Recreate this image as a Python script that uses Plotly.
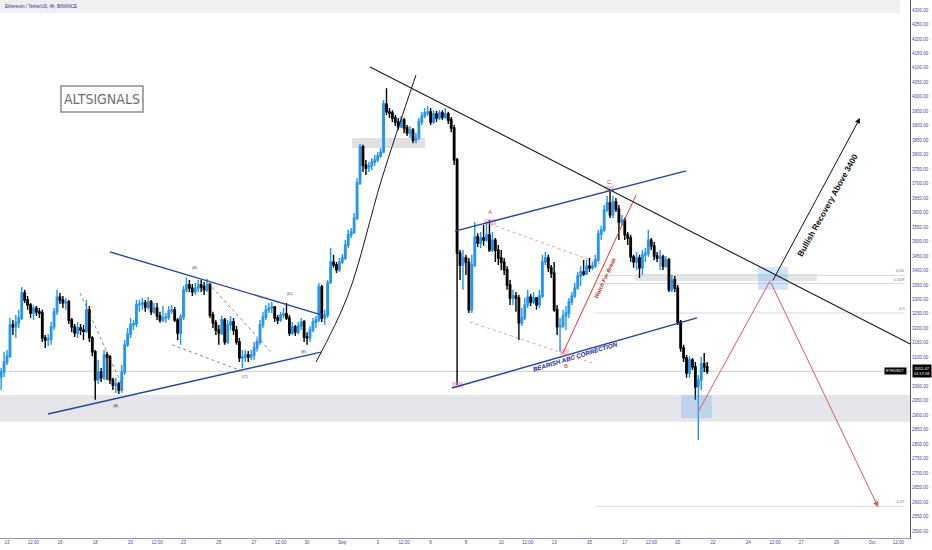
import pandas as pd
import plotly.graph_objects as go

# ---------------- data (ETH/USDT 4h candles) ----------------
first_open = 3032
close = [3049, 3084, 3104, 3212, 3205, 3219, 3236, 3322, 3298, 3281,
         3253, 3270, 3257, 3253, 3167, 3160, 3163, 3205, 3257, 3308,
         3298, 3288, 3291, 3229, 3205, 3184, 3201, 3194, 3190, 3264,
         3167, 3119, 3022, 3049, 3029, 3108, 3101, 3022, 3004, 3008,
         2987, 3049, 3143, 3180, 3212, 3216, 3281, 3284, 3288, 3274,
         3291, 3257, 3270, 3243, 3229, 3236, 3239, 3260, 3264, 3229,
         3184, 3239, 3333, 3350, 3339, 3326, 3339, 3350, 3343, 3333,
         3350, 3246, 3219, 3194, 3184, 3229, 3153, 3212, 3222, 3194,
         3153, 3098, 3101, 3108, 3101, 3108, 3132, 3153, 3212, 3239,
         3264, 3270, 3274, 3236, 3229, 3246, 3250, 3236, 3184, 3205,
         3187, 3208, 3222, 3170, 3167, 3194, 3222, 3229, 3343, 3236,
         3246, 3357, 3429, 3419, 3402, 3429, 3443, 3488, 3523, 3533,
         3581, 3702, 3827, 3764, 3754, 3761, 3775, 3782, 3796, 3809,
         3975, 3948, 3944, 3927, 3913, 3896, 3920, 3892, 3875, 3885,
         3851, 3858, 3913, 3934, 3944, 3948, 3913, 3941, 3927, 3944,
         3930, 3941, 3920, 3892, 3782, 3460, 3419, 3443, 3429, 3264,
         3419, 3516, 3495, 3512, 3505, 3523, 3471, 3505, 3471, 3443,
         3429, 3402, 3350, 3305, 3312, 3305, 3219, 3236, 3281, 3308,
         3291, 3305, 3281, 3312, 3429, 3443, 3409, 3391, 3264, 3205,
         3208, 3243, 3253, 3291, 3312, 3339, 3381, 3395, 3388, 3415,
         3409, 3415, 3436, 3526, 3540, 3609, 3633, 3592, 3637, 3612,
         3567, 3574, 3523, 3512, 3447, 3429, 3443, 3409, 3454, 3460,
         3505, 3485, 3450, 3443, 3447, 3415, 3436, 3333, 3367, 3339,
         3222, 3132, 3098, 3046, 3091, 3067, 2998, 3022, 3077, 3067,
         3051.47]
high = [3063, 3119, 3125, 3236, 3229, 3246, 3264, 3343, 3333, 3312,
        3288, 3281, 3277, 3270, 3264, 3177, 3180, 3222, 3270, 3333,
        3322, 3312, 3305, 3298, 3236, 3215, 3222, 3215, 3212, 3298,
        3277, 3174, 3125, 3091, 3063, 3125, 3119, 3108, 3029, 3029,
        3015, 3073, 3160, 3201, 3236, 3229, 3298, 3298, 3305, 3298,
        3308, 3298, 3288, 3288, 3257, 3277, 3253, 3277, 3281, 3274,
        3236, 3250, 3346, 3377, 3367, 3353, 3357, 3367, 3367, 3360,
        3371, 3357, 3257, 3229, 3212, 3243, 3236, 3229, 3243, 3236,
        3208, 3167, 3125, 3125, 3122, 3125, 3153, 3167, 3229, 3257,
        3281, 3288, 3291, 3277, 3246, 3257, 3270, 3288, 3246, 3222,
        3212, 3222, 3236, 3229, 3187, 3208, 3236, 3243, 3357, 3350,
        3264, 3367, 3478, 3454, 3429, 3443, 3457, 3505, 3540, 3547,
        3599, 3719, 3837, 3834, 3782, 3775, 3789, 3799, 3809, 3823,
        3989, 4030, 3961, 3954, 3937, 3927, 3934, 3927, 3903, 3899,
        3892, 3875, 3927, 3948, 3961, 3968, 3961, 3954, 3951, 3954,
        3954, 3961, 3948, 3930, 3903, 3789, 3471, 3471, 3454, 3443,
        3454, 3567, 3529, 3533, 3557, 3567, 3574, 3533, 3512, 3488,
        3471, 3443, 3415, 3367, 3333, 3326, 3315, 3270, 3305, 3333,
        3319, 3326, 3308, 3333, 3454, 3464, 3454, 3419, 3429, 3281,
        3236, 3264, 3277, 3305, 3326, 3357, 3395, 3415, 3436, 3436,
        3443, 3429, 3454, 3540, 3554, 3626, 3657, 3678, 3657, 3650,
        3626, 3592, 3581, 3533, 3523, 3454, 3464, 3454, 3471, 3478,
        3540, 3512, 3498, 3464, 3471, 3454, 3450, 3443, 3384, 3381,
        3350, 3229, 3143, 3108, 3104, 3098, 3084, 3039, 3101, 3115,
        3084]
low = [2987, 3032, 3073, 3098, 3177, 3167, 3201, 3229, 3288, 3264,
       3236, 3229, 3243, 3236, 3153, 3132, 3139, 3143, 3194, 3246,
       3284, 3270, 3264, 3215, 3187, 3170, 3167, 3177, 3160, 3184,
       3153, 3104, 2953, 3008, 3015, 3022, 3022, 3008, 2987, 2977,
       2973, 2977, 3039, 3136, 3167, 3194, 3205, 3257, 3264, 3257,
       3264, 3246, 3250, 3229, 3219, 3222, 3219, 3229, 3250, 3222,
       3160, 3143, 3229, 3326, 3326, 3312, 3315, 3326, 3326, 3315,
       3326, 3236, 3201, 3177, 3143, 3177, 3143, 3146, 3194, 3177,
       3143, 3084, 3063, 3084, 3084, 3091, 3091, 3119, 3143, 3201,
       3229, 3253, 3253, 3222, 3215, 3222, 3236, 3229, 3174, 3177,
       3174, 3180, 3194, 3153, 3143, 3153, 3187, 3201, 3222, 3222,
       3212, 3236, 3357, 3409, 3391, 3395, 3422, 3436, 3478, 3512,
       3526, 3574, 3695, 3740, 3730, 3740, 3747, 3761, 3775, 3789,
       3806, 3937, 3927, 3913, 3899, 3885, 3892, 3875, 3865, 3858,
       3840, 3840, 3851, 3903, 3927, 3934, 3903, 3906, 3913, 3920,
       3920, 3923, 3906, 3878, 3764, 3004, 3367, 3333, 3384, 3253,
       3253, 3412, 3481, 3478, 3485, 3498, 3464, 3464, 3429, 3419,
       3402, 3384, 3333, 3281, 3281, 3257, 3160, 3208, 3229, 3270,
       3277, 3284, 3264, 3270, 3305, 3419, 3395, 3374, 3257, 3177,
       3119, 3201, 3194, 3236, 3281, 3305, 3333, 3346, 3381, 3384,
       3395, 3402, 3409, 3429, 3505, 3533, 3602, 3581, 3581, 3602,
       3505, 3557, 3505, 3488, 3429, 3409, 3402, 3374, 3384, 3429,
       3447, 3471, 3436, 3429, 3402, 3402, 3409, 3326, 3326, 3326,
       3212, 3119, 3084, 3029, 3029, 3056, 2953, 2814, 2987, 3049,
       3042]
open_ = [first_open] + close[:-1]
times = pd.date_range("2021-08-12 16:00", periods=len(close), freq="4h")

# price tick labels (3050.00 is hidden behind the last-price tag in the reference)
y_ticks = [v for v in range(2500, 4301, 50) if v != 3050]
x_tick_dates = ["2021-08-13", "2021-08-14 12:00", "2021-08-16", "2021-08-18", "2021-08-20",
                "2021-08-21 12:00", "2021-08-23", "2021-08-25", "2021-08-27", "2021-08-28 12:00",
                "2021-08-30", "2021-09-01", "2021-09-03", "2021-09-04 12:00", "2021-09-06",
                "2021-09-08", "2021-09-10", "2021-09-11 12:00", "2021-09-13", "2021-09-15",
                "2021-09-17", "2021-09-18 12:00", "2021-09-20", "2021-09-22", "2021-09-24",
                "2021-09-25 12:00", "2021-09-27", "2021-09-29", "2021-10-01", "2021-10-02 12:00"]
x_tick_text = ["13", "12:00", "16", "18", "20", "12:00", "23", "25", "27", "12:00",
               "30", "Sep", "3", "12:00", "6", "8", "10", "12:00", "13", "15",
               "17", "12:00", "20", "22", "24", "12:00", "27", "29", "Oct", "12:00"]

fib_levels = [0.65, 0.618, 0.5, -0.27]
fib_prices = [3383, 3355, 3253, 2585]
last_price = 3051.47

# drawings: (day offset from 13 Aug, price)
BASE = pd.Timestamp("2021-08-13 00:00")
def T(d):
    return (BASE + pd.Timedelta(days=d)).strftime("%Y-%m-%d %H:%M:%S")

X_MIN, X_MAX = -0.397, 51.16
Y_MIN, Y_MAX = 2475.7, 4334.5

fig = go.Figure()

shapes = []
def rect(d0, d1, p0, p1, color, line=None, layer="below", xref="x"):
    shapes.append(dict(type="rect", xref=xref, yref="y",
                       x0=T(d0) if xref == "x" else d0, x1=T(d1) if xref == "x" else d1,
                       y0=p0, y1=p1, fillcolor=color, layer=layer,
                       line=dict(width=0) if line is None else line))

def seg(d0, p0, d1, p1, color, width=1.0, dash="solid", layer="above"):
    shapes.append(dict(type="line", xref="x", yref="y", x0=T(d0), y0=p0, x1=T(d1), y1=p1,
                       line=dict(color=color, width=width, dash=dash), layer=layer))

# zones
rect(0, 1, 2877, 2970, "#e6e6ea", xref="paper")
rect(19.55, 23.68, 3823, 3858, "rgba(200,200,205,0.55)")
rect(35.58, 45.89, 3364, 3388, "rgba(200,200,205,0.45)")
rect(42.55, 44.25, 3333, 3412, "rgba(100,170,235,0.30)", layer="above")
rect(38.19, 39.94, 2890, 2970, "rgba(100,170,235,0.30)", layer="above")
# pink markers
for d0, d1, p0, p1 in [(27.03, 27.71, 3557, 3578), (31.33, 31.84, 3108, 3129),
                       (33.88, 34.39, 3671, 3692), (25.21, 25.84, 2994, 3015)]:
    rect(d0, d1, p0, p1, "rgba(240,140,160,0.45)", layer="above")

# last price line
shapes.append(dict(type="line", xref="paper", yref="y", x0=0, x1=1, y0=last_price, y1=last_price,
                   line=dict(color="#cfcfd4", width=1), layer="below"))
# fib lines
for p in fib_prices:
    seg(33.3, p, 50.88, p, "#d9d9de", 1, layer="below")

# trend lines
seg(20.57, 4103, 51.5, 3136, "#1a1a1a", 1.1)                 # black descending
seg(5.836, 3464, 17.85, 3246, "#23479a", 1.4)                # triangle upper
seg(2.323, 2904, 17.85, 3119, "#23479a", 1.4)                # triangle lower
seg(4.136, 3322, 6.516, 3004, "#666", 0.8, "dot")
seg(9.35, 3143, 13.48, 3049, "#666", 0.8, "dot")
seg(11.39, 3357, 15.01, 3115, "#666", 0.8, "dot")
seg(25.38, 3536, 38.47, 3744, "#23479a", 1.4)                # ABC upper
seg(25.21, 2994, 39.09, 3236, "#23479a", 1.4)                # ABC lower
seg(27.37, 3561, 34.0, 3415, "#e08585", 0.8, "dot")
seg(26.23, 3222, 33.31, 3077, "#e08585", 0.8, "dot")
seg(31.50, 3115, 35.64, 3661, "#e53935", 1.0)                # watch for break
seg(39.15, 2911, 43.23, 3364, "#e05a5a", 1.0)                # projection up

# header bar & logo box
shapes.append(dict(type="rect", xref="paper", yref="paper", x0=0, x1=0.989, y0=0.9758, y1=1.0,
                   fillcolor="#efeff2", line=dict(width=0), layer="above"))
shapes.append(dict(type="rect", xref="paper", yref="paper", x0=0.067, x1=0.1571, y0=0.7918, y1=0.8401,
                   fillcolor="rgba(0,0,0,0)", line=dict(color="#8a8a8a", width=1.5), layer="above"))

fig.add_trace(go.Candlestick(
    x=times, open=open_, high=high, low=low, close=close,
    increasing=dict(line=dict(color="#2196f3", width=1.4), fillcolor="#2196f3"),
    decreasing=dict(line=dict(color="#000000", width=1.4), fillcolor="#000000"),
    whiskerwidth=0, showlegend=False, hoverinfo="skip"))

# curved rally line
curve_days = [17.51, 19.32, 21.25, 23.17]
curve_prices = [3084, 3315, 3720, 4075]
fig.add_trace(go.Scatter(x=[T(d) for d in curve_days], y=curve_prices, mode="lines",
                         line=dict(color="#1a1a1a", width=1, shape="spline"),
                         showlegend=False, hoverinfo="skip"))

ann = []
def txt(d, p, s, size=4.5, color="#23479a", angle=0, bold=False, italic=False, family="Liberation Sans, Arial, sans-serif"):
    if bold:
        s = "<b>" + s + "</b>"
    if italic:
        s = "<i>" + s + "</i>"
    ann.append(dict(x=T(d), y=p, xref="x", yref="y", text=s, showarrow=False, textangle=angle,
                    font=dict(size=size, color=color, family=family)))

txt(6.18, 2932, "(A)", 4)
txt(10.65, 3409, "(B)", 4)
txt(13.48, 3032, "(C)", 4)
txt(16.03, 3319, "(D)", 4)
txt(16.83, 3119, "(E)", 4)
txt(27.37, 3602, "A", 6, "#e53935")
txt(31.67, 3070, "B", 6, "#e53935")
txt(34.16, 3706, "C", 6, "#e53935")
txt(32.18, 3104, "BEARISH ABC CORRECTION", 6.3, "#1a2a8a", -17, True, True)
txt(33.88, 3374, "Watch For Break", 5.5, "#c62828", -65, True, True)
txt(46.5, 3625, "Bullish Recovery Above 3400", 8.3, "#111111", -61, True)

# arrows
ann.append(dict(x=T(49.35), y=2583, ax=T(43.23), ay=3364, xref="x", yref="y", axref="x", ayref="y",
                text="", showarrow=True, arrowhead=2, arrowsize=1.1, arrowwidth=1, arrowcolor="#e05a5a"))
ann.append(dict(x=T(48.33), y=3927, ax=T(43.34), ay=3360, xref="x", yref="y", axref="x", ayref="y",
                text="", showarrow=True, arrowhead=2, arrowsize=1.1, arrowwidth=1, arrowcolor="#111111"))

# fib labels
for lv, p in zip(fib_levels, fib_prices):
    ann.append(dict(x=0.997, y=p, xref="paper", yref="y", xanchor="right", yanchor="bottom",
                    text=str(lv), showarrow=False, font=dict(size=4.2, color="#6c7090")))

# header text and logo text
ann.append(dict(x=0.003, y=0.9888, xref="paper", yref="paper", xanchor="left", yanchor="middle",
                text="Ethereum / TetherUS, 4h, BINANCE", showarrow=False,
                font=dict(size=4.5, color="#2b2f86", family="Liberation Sans, Arial")))
ann.append(dict(x=0.1121, y=0.816, xref="paper", yref="paper", xanchor="center", yanchor="middle",
                text="ALTSIGNALS", showarrow=False,
                font=dict(size=14, color="#6e6e6e", family="Liberation Sans Narrow, DejaVu Sans Condensed, sans-serif")))
# price tags
ann.append(dict(x=0.997, y=last_price, xref="paper", yref="y", xanchor="right", yanchor="middle",
                text="ETHUSDT", showarrow=False, bgcolor="#000000", borderpad=1,
                font=dict(size=3.8, color="#ffffff", family="Liberation Sans, Arial")))
ann.append(dict(x=1.0, y=last_price, xref="paper", yref="y", xanchor="left", yanchor="middle", xshift=2,
                text="3051.47<br>01:57:08", showarrow=False, bgcolor="#000000", borderpad=1,
                font=dict(size=4, color="#ffffff", family="Liberation Sans, Arial")))

fig.update_layout(
    width=932, height=550,
    margin=dict(l=0, r=22, t=0, b=12),
    paper_bgcolor="#ffffff", plot_bgcolor="#ffffff",
    shapes=shapes, annotations=ann, showlegend=False,
    font=dict(family="Liberation Sans, Arial, sans-serif"),
    xaxis=dict(type="date", range=[T(X_MIN), T(X_MAX)], rangeslider=dict(visible=False),
               showgrid=False, zeroline=False, showline=True, linecolor="#9a9aa0", linewidth=1,
               tickvals=x_tick_dates, ticktext=x_tick_text, ticks="",
               tickfont=dict(size=4.5, color="#3f4aa0")),
    yaxis=dict(range=[Y_MIN, Y_MAX], side="right", showgrid=False, zeroline=False,
               showline=True, linecolor="#555", linewidth=1,
               tickvals=y_ticks, ticktext=[f"{v:.2f}" for v in y_ticks], ticks="",
               tickfont=dict(size=4.5, color="#3f4aa0")),
)

fig.write_html("out.html", config={"displayModeBar": False},
               post_script="document.body.style.margin='0';document.body.style.overflow='hidden';")
